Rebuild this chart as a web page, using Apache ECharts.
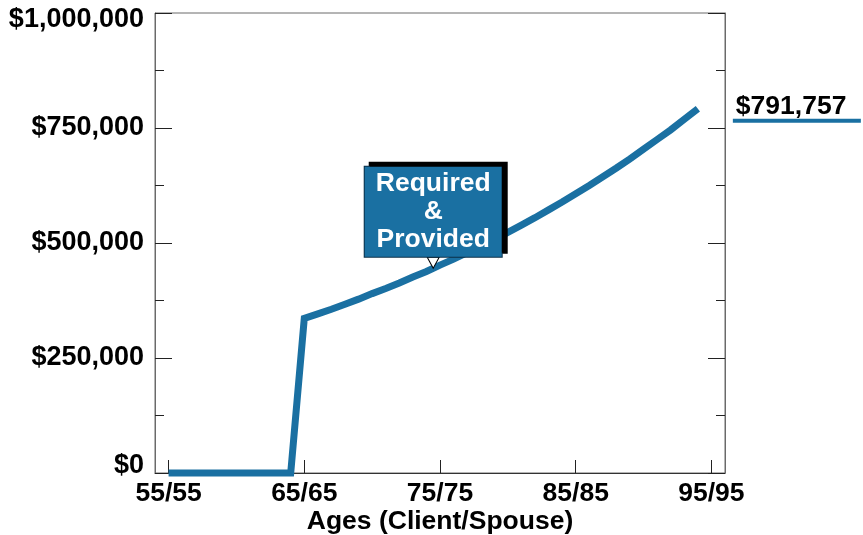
<!DOCTYPE html>
<html>
<head>
<meta charset="utf-8">
<title>Funds Required and Provided</title>
<script src="https://cdn.jsdelivr.net/npm/echarts@6/dist/echarts.min.js"></script>
<style>
  html, body { margin: 0; padding: 0; background: #fff; overflow: hidden; }
  #chart { width: 863px; height: 535px; }
</style>
</head>
<body>
<div id="chart"></div>
<script>
// Ages of client/spouse, one point per year
const ages = [55, 56, 57, 58, 59, 60, 61, 62, 63, 64,
              65, 66, 67, 68, 69, 70, 71, 72, 73, 74,
              75, 76, 77, 78, 79, 80, 81, 82, 83, 84,
              85, 86, 87, 88, 89, 90, 91, 92, 93, 94];

// Capital required (and provided) at each age
const capital = [0, 0, 0, 0, 0, 0, 0, 0, 0, 0,
                 336000, 346000, 356000, 367000, 378000, 390000, 401000, 413000, 426000, 438000,
                 452000, 465000, 479000, 493000, 508000, 523000, 539000, 555000, 572000, 589000,
                 607000, 625000, 644000, 663000, 683000, 704000, 725000, 746000, 769000, 791757];

// Labelled ages on the horizontal axis
const ageTicks = [55, 65, 75, 85, 95];

// Dollar gridding on the vertical axis
const yMin = 0;
const yMax = 1000000;
const yStep = 250000;

const calloutLines = ['Required', '&', 'Provided'];

const BLUE = '#1a70a2';
const FONT = "'Liberation Sans', Arial, Helvetica, sans-serif";
const FS = 26.5;

const seriesData = ages.map((a, i) => [a, capital[i]]);

// Callout pointer sits midway along the segment between ages 74 and 75
const i74 = ages.indexOf(74);
const calloutCoord = [
  (ages[i74] + ages[i74 + 1]) / 2,
  (capital[i74] + capital[i74 + 1]) / 2
];

const money = v => '$' + Math.round(v).toLocaleString('en-US');

const chart = echarts.init(document.getElementById('chart'), null, { renderer: 'canvas' });

const yAxisCommon = {
  type: 'value',
  min: yMin,
  max: yMax,
  interval: yStep,
  splitLine: { show: false },
  axisLine: { show: true, lineStyle: { color: '#6a6a6a', width: 1 } },
  axisTick: { show: true, inside: true, length: 17, lineStyle: { color: '#222', width: 1 } },
  minorTick: { show: true, splitNumber: 2, length: 9, lineStyle: { color: '#222', width: 1 } },
  minorSplitLine: { show: false }
};

chart.setOption({
  animation: false,
  backgroundColor: '#fff',
  textStyle: { fontFamily: FONT },
  grid: {
    left: 155,
    right: 138,
    top: 13,
    bottom: 62,
    containLabel: false,
    outerBoundsMode: 'none',
    show: true,
    borderColor: '#6a6a6a',
    borderWidth: 1,
    backgroundColor: 'transparent'
  },
  xAxis: {
    type: 'value',
    min: 54,
    max: 96,
    name: 'Ages (Client/Spouse)',
    nameLocation: 'middle',
    nameGap: 35,
    nameMoveOverlap: false,
    nameTextStyle: { fontSize: FS, fontWeight: 'bold', color: '#000', fontFamily: FONT },
    splitLine: { show: false },
    axisLine: { show: true, lineStyle: { color: '#333', width: 1 } },
    axisTick: {
      show: true,
      inside: true,
      length: 13,
      customValues: ageTicks,
      lineStyle: { color: '#222', width: 1 }
    },
    axisLabel: {
      customValues: ageTicks,
      formatter: v => v + '/' + v,
      fontSize: FS,
      fontWeight: 'bold',
      color: '#000',
      fontFamily: FONT,
      margin: 7
    }
  },
  yAxis: [
    Object.assign({}, yAxisCommon, {
      position: 'left',
      axisLabel: {
        formatter: money,
        fontSize: 27,
        fontWeight: 'bold',
        color: '#000',
        fontFamily: FONT,
        margin: 11,
        lineHeight: 14,
        verticalAlignMinLabel: 'bottom',
        verticalAlignMaxLabel: 'top'
      }
    }),
    Object.assign({}, yAxisCommon, {
      position: 'right',
      axisLabel: { show: false }
    })
  ],
  series: [{
    type: 'line',
    data: seriesData,
    yAxisIndex: 0,
    showSymbol: false,
    symbol: 'none',
    clip: false,
    lineStyle: { color: BLUE, width: 7, join: 'miter', cap: 'butt' },
    itemStyle: { color: BLUE },
    endLabel: {
      show: true,
      distance: 0,
      offset: [35, 1],
      formatter: p => '{v|' + money(p.value[1]) + '}\n{u|}',
      rich: {
        v: {
          fontSize: FS,
          fontWeight: 'bold',
          color: '#000',
          fontFamily: FONT,
          lineHeight: 22,
          padding: [0, 0, 0, 3]
        },
        u: {
          width: 128,
          height: 4,
          lineHeight: 6,
          backgroundColor: BLUE
        }
      }
    },
    markPoint: {
      silent: true,
      symbol: 'triangle',
      symbolSize: [12, 11],
      symbolRotate: 180,
      symbolOffset: [0, '-50%'],
      itemStyle: { color: '#fff', borderColor: '#000', borderWidth: 1 },
      data: [{
        coord: calloutCoord,
        label: {
          show: true,
          position: 'top',
          distance: 0,
          formatter: calloutLines.join('\n'),
          color: '#fff',
          fontSize: FS,
          fontWeight: 'bold',
          fontFamily: FONT,
          lineHeight: 28,
          align: 'center',
          width: 137,
          padding: [3, 0, 3, 0],
          backgroundColor: BLUE,
          borderColor: '#0b2f47',
          borderWidth: 1,
          shadowColor: '#000',
          shadowBlur: 0,
          shadowOffsetX: 5,
          shadowOffsetY: -4
        }
      }]
    }
  }]
});
</script>
</body>
</html>
